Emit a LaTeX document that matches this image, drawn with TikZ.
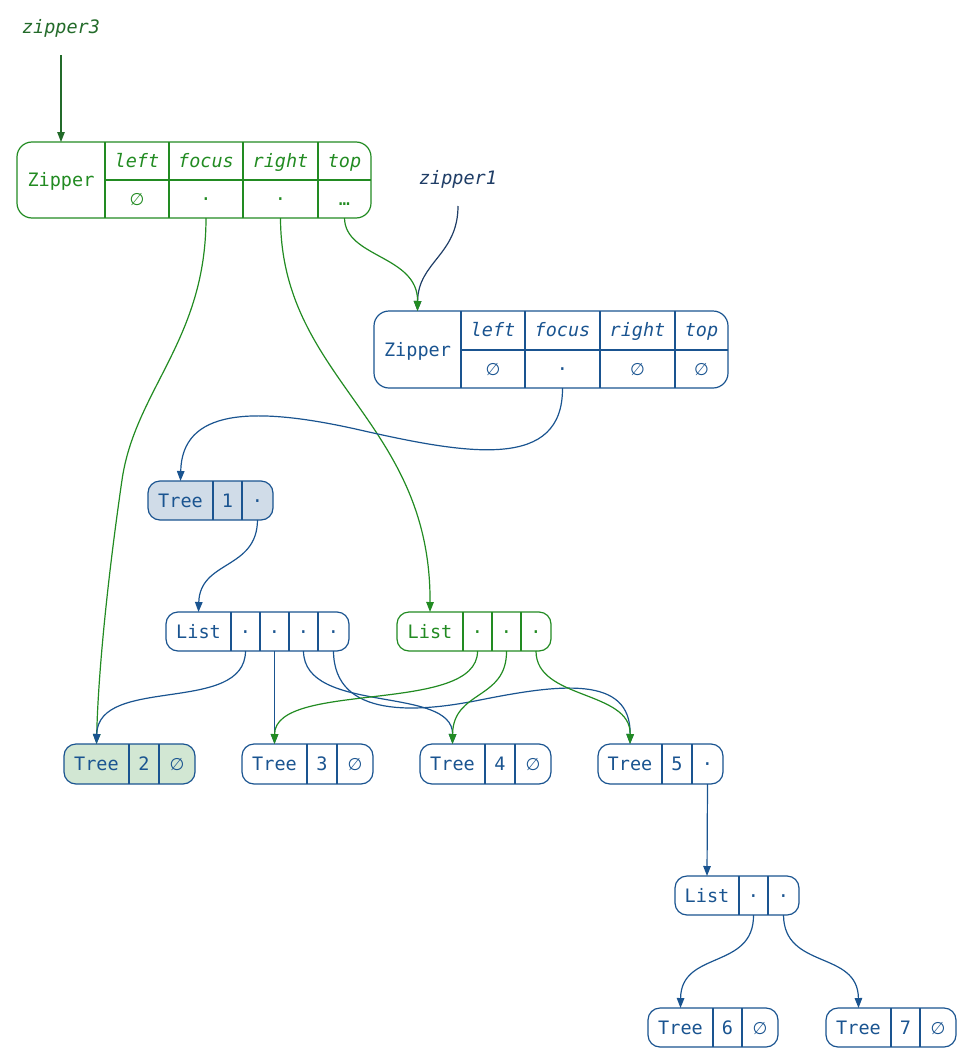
\documentclass[tikz,border=0pt]{standalone}
\usepackage{fontspec}
\setmonofont{DejaVu Sans Mono}
\newfontfamily\djv{DejaVu Sans}
\usetikzlibrary{arrows.meta}
\definecolor{gr}{HTML}{228B22}
\definecolor{dgr}{HTML}{236B2A}
\definecolor{bl}{HTML}{1A5490}
\definecolor{nv}{HTML}{1F3D66}
\definecolor{lbl}{HTML}{D0DCE8}
\definecolor{lgr}{HTML}{D2E7D3}
\newcommand\outbox[7]{\node[box, draw=#7, fill=#6, minimum width={#3-#2}, minimum height={#5-#4}] (#1) at ({(#2+#3)/2},{(#4+#5)/2}) {};}
\newcommand\emp{{\djv\fontsize{17}{20}\selectfont ∅}}
\begin{document}
\begin{tikzpicture}[x=1pt,y=-1pt,line width=1.2pt,
  box/.style={rounded corners=12pt, inner sep=0pt, outer sep=0pt},
  t/.style={font=\ttfamily\fontsize{18.5}{20}\selectfont, inner sep=0pt, anchor=base},
  it/.style={font=\ttfamily\itshape\fontsize{18.5}{20}\selectfont, inner sep=0pt, anchor=base},
  arr/.style={-{Triangle[length=10pt,width=7.5pt]}}]
\useasboundingbox (0,0) rectangle (973,1060);

% ---------- labels ----------
\node[it, text=dgr] (lz3) at (61,33) {zipper3};
\node[it, text=nv] (lz1) at (458,184) {zipper1};
\coordinate (lz3s) at (61,55);
\coordinate (lz1s) at (458,206);

% ---------- Zipper 3 ----------
\node[box, draw=gr, rounded corners=15pt, minimum width=354pt, minimum height=76pt] (z3) at (194,180) {};
\draw[gr] (105,142) -- (105,218) (169,142) -- (169,218) (243,142) -- (243,218) (318,142) -- (318,218) (105,180) -- (371,180);
\node[t, text=gr] (z3n) at (61,186.5) {Zipper};
\node[it, text=gr] (z3h1) at (137,167) {left};
\node[it, text=gr] (z3h2) at (206,167) {focus};
\node[it, text=gr] (z3h3) at (280.5,167) {right};
\node[it, text=gr] (z3h4) at (344.5,167) {top};
\node[t, text=gr] (z3l) at (137,205) {\emp};
\node[t, text=gr] (z3f) at (206,205) {·};
\node[t, text=gr] (z3r) at (280.5,205) {·};
\node[t, text=gr] (z3t) at (344.5,205) {…};

% ---------- Zipper 1 ----------
\node[box, draw=bl, rounded corners=15pt, minimum width=354pt, minimum height=77pt] (z1) at (551,349.5) {};
\draw[bl] (461,311) -- (461,388) (525,311) -- (525,388) (600,311) -- (600,388) (675,311) -- (675,388) (461,350) -- (728,350);
\node[t, text=bl] (z1n) at (417.5,356) {Zipper};
\node[it, text=bl] (z1h1) at (493,336) {left};
\node[it, text=bl] (z1h2) at (562.5,336) {focus};
\node[it, text=bl] (z1h3) at (637.5,336) {right};
\node[it, text=bl] (z1h4) at (701.5,336) {top};
\node[t, text=bl] (z1l) at (493,375) {\emp};
\node[t, text=bl] (z1f) at (562.5,375) {·};
\node[t, text=bl] (z1r) at (637.5,375) {\emp};
\node[t, text=bl] (z1t) at (701.5,375) {\emp};

% ---------- Tree 1 ----------
\outbox{t1}{148}{273}{481}{520}{lbl}{bl}
\draw[bl] (213,481) -- (213,520) (242,481) -- (242,520);
\node[t, text=bl] (t1a) at (180.5,507) {Tree};
\node[t, text=bl] (t1b) at (227.5,507) {1};
\node[t, text=bl] (t1c) at (257.5,507) {·};

% ---------- List blue ----------
\outbox{lb}{166}{349}{612}{651}{white}{bl}
\draw[bl] (231,612) -- (231,651) (260,612) -- (260,651) (289,612) -- (289,651) (318,612) -- (318,651);
\node[t, text=bl] (lba) at (198.5,638) {List};
\node[t, text=bl] (lb1) at (245.5,638) {·};
\node[t, text=bl] (lb2) at (274.5,638) {·};
\node[t, text=bl] (lb3) at (303.5,638) {·};
\node[t, text=bl] (lb4) at (333.5,638) {·};

% ---------- List green ----------
\outbox{lg}{397}{551}{612}{651}{white}{gr}
\draw[gr] (463,612) -- (463,651) (492,612) -- (492,651) (521,612) -- (521,651);
\node[t, text=gr] (lga) at (430,638) {List};
\node[t, text=gr] (lg1) at (477.5,638) {·};
\node[t, text=gr] (lg2) at (506.5,638) {·};
\node[t, text=gr] (lg3) at (536,638) {·};

% ---------- Trees 2-5 ----------
\outbox{t2}{64}{195}{744}{784}{lgr}{bl}
\draw[bl] (129,744) -- (129,784) (159,744) -- (159,784);
\node[t, text=bl] (t2a) at (96.5,770.5) {Tree};
\node[t, text=bl] (t2b) at (144,770.5) {2};
\node[t, text=bl] (t2c) at (177,770.5) {\emp};

\outbox{t3}{242}{373}{744}{784}{white}{bl}
\draw[bl] (307,744) -- (307,784) (337,744) -- (337,784);
\node[t, text=bl] (t3a) at (274.5,770.5) {Tree};
\node[t, text=bl] (t3b) at (322,770.5) {3};
\node[t, text=bl] (t3c) at (355,770.5) {\emp};

\outbox{t4}{420}{551}{744}{784}{white}{bl}
\draw[bl] (485,744) -- (485,784) (515,744) -- (515,784);
\node[t, text=bl] (t4a) at (452.5,770.5) {Tree};
\node[t, text=bl] (t4b) at (500,770.5) {4};
\node[t, text=bl] (t4c) at (533,770.5) {\emp};

\outbox{t5}{598}{723}{744}{784}{white}{bl}
\draw[bl] (662,744) -- (662,784) (692,744) -- (692,784);
\node[t, text=bl] (t5a) at (630,770.5) {Tree};
\node[t, text=bl] (t5b) at (677,770.5) {5};
\node[t, text=bl] (t5c) at (707.5,770.5) {·};

% ---------- bottom list ----------
\outbox{l2}{675}{799}{876}{915}{white}{bl}
\draw[bl] (739,876) -- (739,915) (768,876) -- (768,915);
\node[t, text=bl] (l2a) at (707,902) {List};
\node[t, text=bl] (l21) at (753.5,902) {·};
\node[t, text=bl] (l22) at (783.5,902) {·};

\outbox{t6}{648}{778}{1008}{1047}{white}{bl}
\draw[bl] (713,1008) -- (713,1047) (742,1008) -- (742,1047);
\node[t, text=bl] (t6a) at (680.5,1034) {Tree};
\node[t, text=bl] (t6b) at (727.5,1034) {6};
\node[t, text=bl] (t6c) at (760,1034) {\emp};

\outbox{t7}{826}{956}{1008}{1047}{white}{bl}
\draw[bl] (891,1008) -- (891,1047) (920,1008) -- (920,1047);
\node[t, text=bl] (t7a) at (858.5,1034) {Tree};
\node[t, text=bl] (t7b) at (905.5,1034) {7};
\node[t, text=bl] (t7c) at (938,1034) {\emp};

% ---------- connectors ----------
\draw[arr, dgr] (lz3s) -- (z3n |- z3.north);
\draw[arr, nv] (lz1s) .. controls (458,255) and (418,262) .. (z1n |- z1.north);
\draw[arr, gr] (z3t |- z3.south) .. controls (345,258) and (418,255) .. (z1n |- z1.north);
\draw[arr, gr] (z3f |- z3.south) .. controls (206,340) and (135,390) .. (122,480) .. controls (106,590) and (98,680) .. (t2a |- t2.north);
\draw[arr, gr] (z3r |- z3.south) .. controls (281,380) and (431,420) .. (lga |- lg.north);
\draw[arr, bl] (z1f |- z1.south) .. controls (563,470) and (470,455) .. (360,430) .. controls (250,405) and (182,410) .. (t1a |- t1.north);
\draw[arr, bl] (t1c |- t1.south) .. controls (257,570) and (200,560) .. (lba |- lb.north);

\draw[arr, bl] (lb1 |- lb.south) .. controls (245,715) and (98,675) .. (t2a |- t2.north);
\draw[arr, bl] (lb2 |- lb.south) -- (t3a |- t3.north);
\draw[arr, bl] (lb3 |- lb.south) .. controls (304,715) and (453,685) .. (t4a |- t4.north);
\draw[arr, bl] (lb4 |- lb.south) .. controls (334,720) and (420,712) .. (480,700) .. controls (560,684) and (631,675) .. (t5a |- t5.north);
\draw[arr, gr] (lg1 |- lg.south) .. controls (478,715) and (275,680) .. (t3a |- t3.north);
\draw[arr, gr] (lg2 |- lg.south) .. controls (507,700) and (453,690) .. (t4a |- t4.north);
\draw[arr, gr] (lg3 |- lg.south) .. controls (536,700) and (631,690) .. (t5a |- t5.north);

\draw[arr, bl] (t5c |- t5.south) -- (l2a |- l2.north);
\draw[arr, bl] (l21 |- l2.south) .. controls (754,970) and (681,950) .. (t6a |- t6.north);
\draw[arr, bl] (l22 |- l2.south) .. controls (784,970) and (858,950) .. (t7a |- t7.north);
\end{tikzpicture}
\end{document}
